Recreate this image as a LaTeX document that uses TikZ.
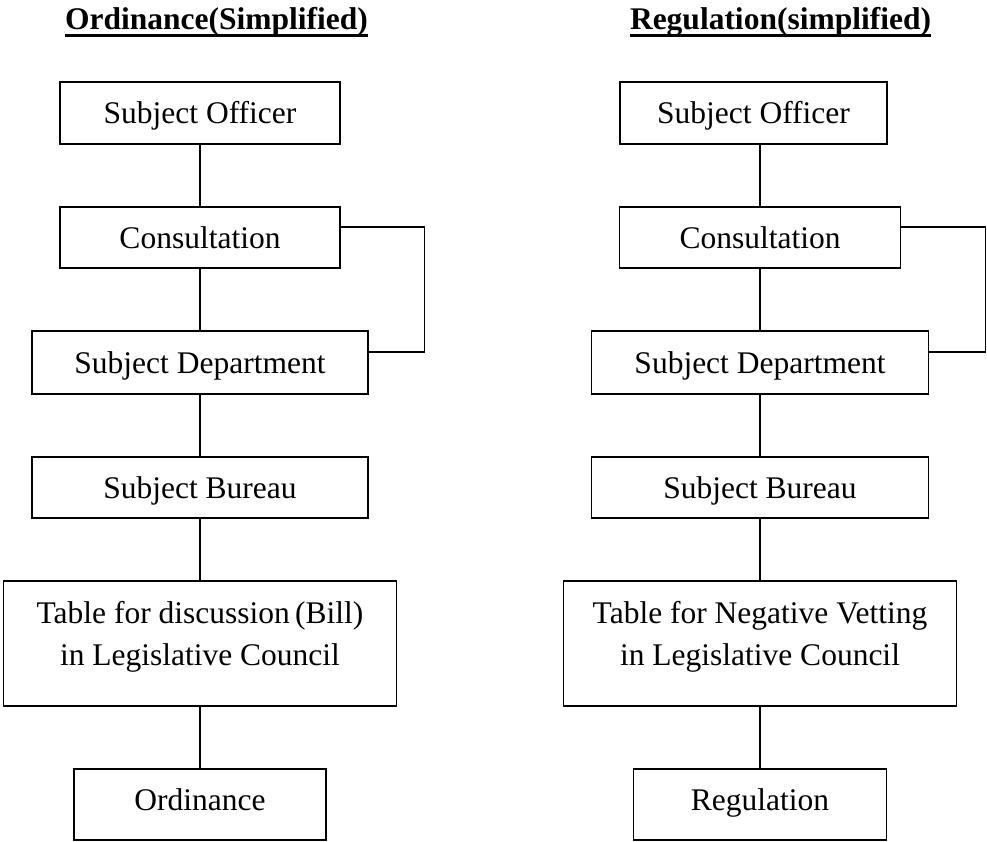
\documentclass[tikz,border=0pt]{standalone}
\usepackage{fontspec}
\setmainfont{Liberation Serif}
\begin{document}
\begin{tikzpicture}[x=1pt,y=-1pt,
  basebox/.style={draw, line width=1.3pt, rectangle, inner sep=0pt,
    font=\fontsize{31.5}{42}\selectfont},
  flowbox/.style={basebox, text height=21pt, text depth=0pt},
  endbox/.style={basebox, text height=21pt, text depth=10pt},
  link/.style={line width=1.3pt},
  heading/.style={font=\fontsize{31.5}{42}\selectfont\bfseries, inner sep=0pt, anchor=base},
  rule/.style={line width=3.5pt}
]
\useasboundingbox (0,0) rectangle (987,842);

% ---- Ordinance column ----
\node[heading] (lt) at (216.5,30) {Ordinance(Simplified)};
\draw[rule] ([yshift=-5.5pt]lt.base west) -- ([yshift=-5.5pt]lt.base east);

\node[flowbox, minimum width=280pt, minimum height=62pt] (l1) at (200,113) {Subject Officer};
\node[flowbox, minimum width=280pt, minimum height=61pt] (l2) at (200,237.5) {Consultation};
\node[flowbox, minimum width=336pt, minimum height=63pt] (l3) at (200,362.5) {Subject Department};
\node[flowbox, minimum width=336pt, minimum height=61pt] (l4) at (200,487.5) {Subject Bureau};
\node[basebox, minimum width=393pt, minimum height=125pt] (l5) at (200,643.5)
  {\parbox[c][125pt][t]{390pt}{\centering\vspace*{20.5pt}Table for discussion\,(Bill)\\in Legislative Council}};
\node[endbox, minimum width=252pt, minimum height=71pt] (l6) at (200,804.5) {Ordinance};

\draw[link] (l2.north |- l1.south) -- (l2.north);
\draw[link] (l3.north |- l2.south) -- (l3.north);
\draw[link] (l4.north |- l3.south) -- (l4.north);
\draw[link] (l5.north |- l4.south) -- (l5.north);
\draw[link] (l6.north |- l5.south) -- (l6.north);
\draw[link] ([yshift=10.5pt]l2.east) -- ++(84,0) |- ([yshift=10.5pt]l3.east);

% ---- Regulation column ----
\node[heading] (rt) at (780.5,30) {Regulation(simplified)};
\draw[rule] ([yshift=-5.5pt]rt.base west) -- ([yshift=-5.5pt]rt.base east);

\node[flowbox, minimum width=267pt, minimum height=62pt] (r1) at (753.5,113) {Subject Officer};
\node[flowbox, minimum width=281pt, minimum height=61pt] (r2) at (760,237.5) {Consultation};
\node[flowbox, minimum width=337pt, minimum height=63pt] (r3) at (760,362.5) {Subject Department};
\node[flowbox, minimum width=337pt, minimum height=61pt] (r4) at (760,487.5) {Subject Bureau};
\node[basebox, minimum width=393pt, minimum height=125pt] (r5) at (760,643.5)
  {\parbox[c][125pt][t]{390pt}{\centering\vspace*{20.5pt}Table for Negative Vetting\\in Legislative Council}};
\node[endbox, minimum width=253pt, minimum height=71pt] (r6) at (760,804.5) {Regulation};

\draw[link] (r2.north |- r1.south) -- (r2.north);
\draw[link] (r3.north |- r2.south) -- (r3.north);
\draw[link] (r4.north |- r3.south) -- (r4.north);
\draw[link] (r5.north |- r4.south) -- (r5.north);
\draw[link] (r6.north |- r5.south) -- (r6.north);
\draw[link] ([yshift=10.5pt]r2.east) -- ++(84,0) |- ([yshift=10.5pt]r3.east);
\end{tikzpicture}
\end{document}
